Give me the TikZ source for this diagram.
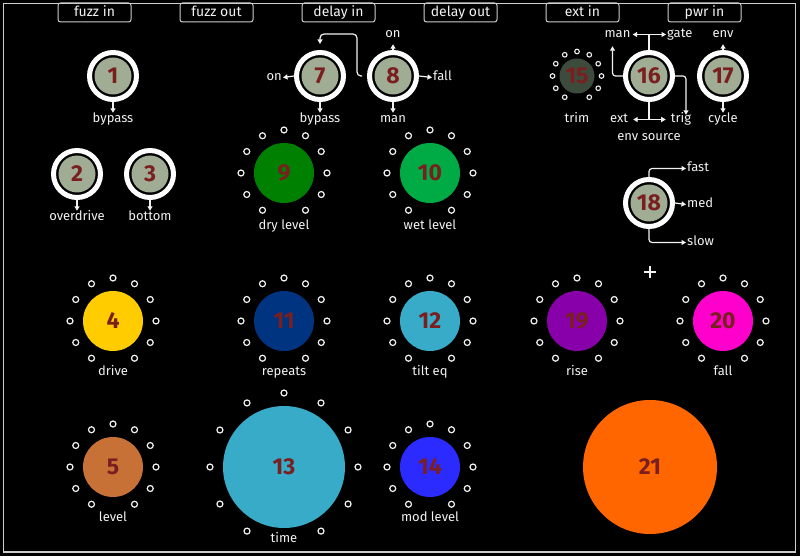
\documentclass[tikz,border=0pt]{standalone}
\usepackage{fontspec}
\setmainfont{Fira Sans}
\usetikzlibrary{arrows.meta,calc}
\definecolor{swgreen}{HTML}{A0AC93}
\definecolor{numred}{HTML}{7A1F1F}
\definecolor{trimc}{HTML}{3D4B3D}
\definecolor{c4}{HTML}{FFCC00}
\definecolor{c5}{HTML}{C87137}
\definecolor{c9}{HTML}{008000}
\definecolor{c10}{HTML}{00AA44}
\definecolor{c11}{HTML}{003380}
\definecolor{c12}{HTML}{37ABC8}
\definecolor{c14}{HTML}{2B2BFF}
\definecolor{c19}{HTML}{8800AA}
\definecolor{c20}{HTML}{FF00CC}
\definecolor{c21}{HTML}{FF6600}
\definecolor{linec}{HTML}{F2F2F2}
\newcommand\kdots[4]{\foreach \a in {120,150,...,420}{\draw[kdot,line width=#4] ($(#1.center)+(\a:#2)$) circle (#3);}}
\begin{document}
\begin{tikzpicture}[x=1pt,y=-1pt,
  lbl/.style={text=linec,font=\fontsize{13}{13}\selectfont,inner sep=1pt,text height=8.5pt,text depth=2.5pt,yshift=-1.5pt},
  tabbox/.style={draw=linec!85!black,line width=1pt,rounded corners=2.5pt,minimum width=73pt,minimum height=19pt,inner sep=0pt,text=linec,font=\fontsize{14}{14}\selectfont,text height=8.5pt,text depth=1pt},
  switchn/.style={circle,draw=white,line width=5pt,fill=black,minimum size=47pt,inner sep=0pt,text=numred,font=\fontsize{23}{23}\selectfont\bfseries,
     path picture={\fill[swgreen] (path picture bounding box.center) circle (18.5pt);}},
  knob/.style={circle,minimum size=60pt,inner sep=0pt,text=numred,font=\fontsize{23}{23}\selectfont\bfseries},
  kdot/.style={draw=linec,fill=black},
  wire/.style={draw=linec,line width=1.2pt},
  conn/.style={wire,-{Triangle[length=4.5pt,width=5pt]}},
]
\fill[black] (0,0) rectangle (800,556);
\useasboundingbox (0,0) rectangle (800,556);
\draw[linec!85!black,line width=1.5pt] (3.5,3.5) rectangle (795.5,552);

% tabs
\node[tabbox] (t1) at (94.5,12.5) {fuzz in};
\node[tabbox] (t2) at (216.5,12.5) {fuzz out};
\node[tabbox] (t3) at (338.5,12.5) {delay in};
\node[tabbox] (t4) at (460.5,12.5) {delay out};
\node[tabbox] (t5) at (582.5,12.5) {ext in};
\node[tabbox] (t6) at (704.5,12.5) {pwr in};

% switches
\node[switchn] (s1) at (113,76) {1};
\node[switchn] (s2) at (77,174) {2};
\node[switchn] (s3) at (150,174) {3};
\node[switchn] (s7) at (320,76) {7};
\node[switchn] (s8) at (393,76) {8};
\node[switchn] (s16) at (649,76) {16};
\node[switchn] (s17) at (723,76) {17};
\node[switchn] (s18) at (649,203) {18};

% switch labels
\node[lbl] (l1) at (113,118) {bypass};
\node[lbl] (l2) at (77,216) {overdrive};
\node[lbl] (l3) at (150,216) {bottom};
\node[lbl,anchor=east] (l7on) at (283,76) {on};
\node[lbl] (l7by) at (320,118) {bypass};
\node[lbl] (l8on) at (393,33) {on};
\node[lbl] (l8man) at (393,118) {man};
\node[lbl,anchor=west] (l8fall) at (432,76) {fall};
\node[lbl] (l16man) at (617.5,33) {man};
\node[lbl,anchor=west] (l16gate) at (666,33) {gate};
\node[lbl] (l16ext) at (619,118) {ext};
\node[lbl] (l16trig) at (681,118) {trig};
\node[lbl] (l16src) at (649,136) {env source};
\node[lbl] (l17env) at (723,33) {env};
\node[lbl] (l17cyc) at (723,118) {cycle};
\node[lbl,anchor=west] (l18fast) at (686,167) {fast};
\node[lbl,anchor=west] (l18med) at (686,203) {med};
\node[lbl,anchor=west] (l18slow) at (686,241) {slow};

% switch connectors
\draw[conn] (s1.south) -- (l1.north);
\draw[conn] (s2.south) -- (l2.north);
\draw[conn] (s3.south) -- (l3.north);
\draw[conn] (s7.west) -- (l7on.east);
\draw[conn] (s7.south) -- (l7by.north);
\draw[conn] (s8.north) -- ($(l8on.south)+(0,3)$);
\draw[conn] (s8.south) -- (l8man.north);
\draw[conn] (s8.east) -- (l8fall.west);
\draw[conn,rounded corners=4pt] ($(s8.west)+(-5,0)$) -- ++(-5,0) |- ($(s7.north)+(0,-16)$) -- ($(s7.north)+(0,-6)$);
\coordinate (c16t) at (s16.north |- l16man);
\coordinate (c16b) at (s16.south |- l16ext);
\draw[wire] (s16.north) -- (c16t);
\draw[conn] (c16t) -- ($(l16man.east)+(1,0)$);
\draw[conn] (c16t) -- (l16gate.west);
\draw[wire] (s16.south) -- (c16b);
\draw[conn] (c16b) -- ($(l16ext.east)+(4,0)$);
\draw[conn] (c16b) -- ($(l16trig.west)+(-4,0)$);
\draw[conn,rounded corners=3pt] (s16.west) -| ($(l16man.south)+(-5,5)$);
\draw[conn,rounded corners=3pt] (s16.east) -| ($(l16trig.north)+(5,2)$);
\draw[conn] (s17.north) -- ($(l17env.south)+(0,3)$);
\draw[conn] (s17.south) -- (l17cyc.north);
\draw[conn,rounded corners=3pt] (s18.north) |- (l18fast.west);
\draw[conn] (s18.east) -- (l18med.west);
\draw[conn,rounded corners=3pt] (s18.south) |- (l18slow.west);

% knobs
\node[knob,fill=c4] (k4) at (113,321) {4};
\node[knob,fill=c5] (k5) at (113,467) {5};
\node[knob,fill=c9] (k9) at (284,173) {9};
\node[knob,fill=c10] (k10) at (430,173) {10};
\node[knob,fill=c11] (k11) at (284,321) {11};
\node[knob,fill=c12] (k12) at (430,321) {12};
\node[knob,fill=c12,minimum size=122pt] (k13) at (284,467) {13};
\node[knob,fill=c14] (k14) at (430,467) {14};
\node[knob,fill=trimc,minimum size=35pt] (k15) at (577,76) {15};
\node[knob,fill=c19] (k19) at (577,321) {19};
\node[knob,fill=c20] (k20) at (723,321) {20};
\node[knob,fill=c21,minimum size=134pt] (k21) at (650,467) {21};

\kdots{k4}{43}{3pt}{1.2pt}
\kdots{k5}{43}{3pt}{1.2pt}
\kdots{k9}{43}{3pt}{1.2pt}
\kdots{k10}{43}{3pt}{1.2pt}
\kdots{k11}{43}{3pt}{1.2pt}
\kdots{k12}{43}{3pt}{1.2pt}
\kdots{k13}{74}{3pt}{1.2pt}
\kdots{k14}{43}{3pt}{1.2pt}
\kdots{k15}{24.5}{2.3pt}{1.1pt}
\kdots{k19}{43}{3pt}{1.2pt}
\kdots{k20}{43}{3pt}{1.2pt}

% knob labels
\node[lbl] (n4) at (113,371) {drive};
\node[lbl] (n5) at (113,517) {level};
\node[lbl] (n9) at (284,225) {dry level};
\node[lbl] (n10) at (430,225) {wet level};
\node[lbl] (n11) at (284,371) {repeats};
\node[lbl] (n12) at (430,371) {tilt eq};
\node[lbl] (n13) at (284,538) {time};
\node[lbl] (n14) at (430,517) {mod level};
\node[lbl] (n15) at (577,118) {trim};
\node[lbl] (n19) at (577,371) {rise};
\node[lbl] (n20) at (723,371) {fall};

% plus mark
\coordinate (plus) at (650,272);
\draw[linec,line width=1.1pt] ($(plus)+(-6,0)$) -- ($(plus)+(6,0)$) ($(plus)+(0,-6)$) -- ($(plus)+(0,6)$);
\end{tikzpicture}
\end{document}
